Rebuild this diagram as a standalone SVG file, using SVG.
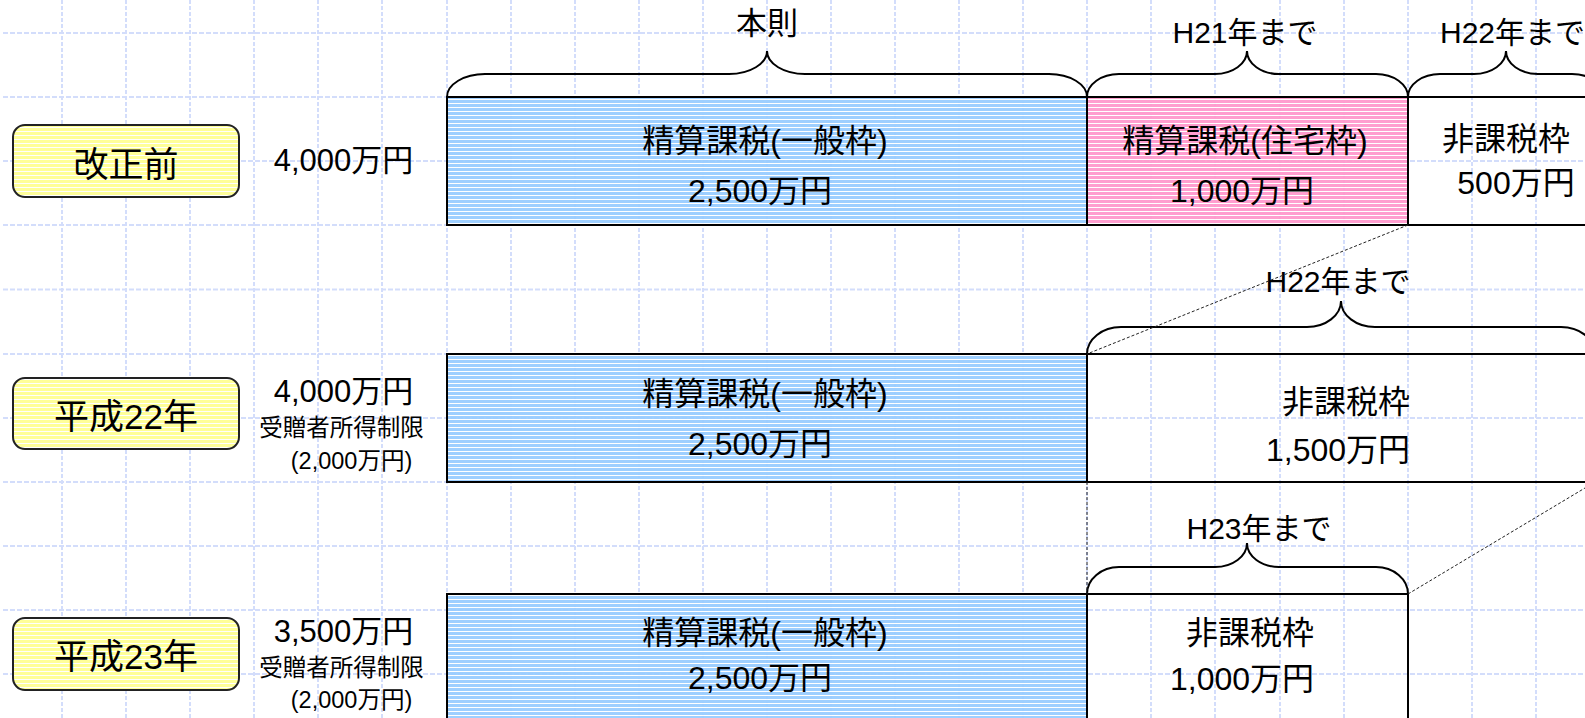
<svg xmlns="http://www.w3.org/2000/svg" width="1585" height="718" viewBox="0 0 1585 718">
<style>
.gh{fill:none;stroke:#D3DDFB;stroke-width:2;stroke-dasharray:5 2}
.gv{fill:none;stroke:#D3DDFB;stroke-width:2;stroke-dasharray:4 2}
.box{fill:none;stroke:#000;stroke-width:2}
.brace{fill:none;stroke:#000;stroke-width:2}
.conn{fill:none;stroke:#222;stroke-width:1;stroke-dasharray:3 2}
.lab{fill:url(#py);stroke:#222;stroke-width:2}
text{font-family:"Liberation Sans","Noto Sans CJK JP",sans-serif;fill:#000}
.t32{font-size:32px;text-anchor:middle}
.t30{font-size:30px;text-anchor:middle}
.t31{font-size:31px;text-anchor:middle}
.t24{font-size:23.5px;text-anchor:middle}
.t35{font-size:35px;text-anchor:middle}
</style>
<defs>
<pattern id="pb" width="8" height="4" patternUnits="userSpaceOnUse"><rect width="8" height="4" fill="#99CCFF"/><rect y="3" width="8" height="1" fill="#fff"/></pattern>
<pattern id="pp" width="8" height="4" patternUnits="userSpaceOnUse"><rect width="8" height="4" fill="#FF99CC"/><rect y="3" width="8" height="1" fill="#fff"/></pattern>
<pattern id="py" width="8" height="4" patternUnits="userSpaceOnUse"><rect width="8" height="4" fill="#FFFF99"/><rect y="3" width="8" height="1" fill="#fff"/></pattern>
</defs>
<rect width="1585" height="718" fill="#fff"/>
<g id="grid">
<path class="gh" d="M3 33H1585M3 97H1585M3 161H1585M3 225H1585M3 289.5H1585M3 354H1585M3 418H1585M3 482H1585M3 546H1585M3 610H1585M3 674H1585"/>
<path class="gv" d="M62 0V718M126 0V718M190 0V718M254 0V718M318 0V718M382 0V718M447 0V718M511 0V718M575 0V718M639 0V718M703 0V718M767 0V718M831 0V718M895 0V718M959 0V718M1023 0V718M1087 0V718M1151 0V718M1215 0V718M1280 0V718M1344 0V718M1408 0V718M1472 0V718M1536 0V718"/>
</g>
<g id="row1">
<g id="label-kaiseimae"><rect class="lab" x="13" y="125" width="226" height="72" rx="12"/><text class="t35" x="126" y="177">改正前</text></g>
<g id="amount1"><text class="t31" x="343.5" y="171">4,000万円</text></g>
<g id="r1-general"><rect x="447" y="97" width="640" height="128" fill="url(#pb)" fill-opacity="0.95"/><rect class="box" x="447" y="97" width="640" height="128"/><text class="t32" x="765" y="152">精算課税(一般枠)</text><text class="t32" x="760" y="202">2,500万円</text></g>
<g id="r1-housing"><rect x="1087" y="97" width="321" height="128" fill="url(#pp)" fill-opacity="0.95"/><rect class="box" x="1087" y="97" width="321" height="128"/><text class="t32" x="1245" y="152">精算課税(住宅枠)</text><text class="t32" x="1242" y="202">1,000万円</text></g>
<g id="r1-exempt"><path class="box" d="M1590 97H1408V225H1590"/><text class="t32" x="1506" y="150">非課税枠</text><text class="t32" x="1516" y="194">500万円</text></g>
</g>
<g id="row2">
<g id="label-h22"><rect class="lab" x="13" y="378" width="226" height="71" rx="12"/><text class="t35" x="126" y="429">平成22年</text></g>
<g id="amount2"><text class="t31" x="343.5" y="402">4,000万円</text><text class="t24" x="341.5" y="436">受贈者所得制限</text><text class="t24" x="351.5" y="469">(2,000万円)</text></g>
<g id="r2-general"><rect x="447" y="354" width="640" height="128" fill="url(#pb)" fill-opacity="0.95"/><rect class="box" x="447" y="354" width="640" height="128"/><text class="t32" x="765" y="405">精算課税(一般枠)</text><text class="t32" x="760" y="455">2,500万円</text></g>
<g id="r2-exempt"><path class="box" d="M1590 354H1087V482H1590"/><text class="t32" x="1346" y="413">非課税枠</text><text class="t32" x="1338" y="461">1,500万円</text></g>
</g>
<g id="row3">
<g id="label-h23"><rect class="lab" x="13" y="618" width="226" height="72" rx="12"/><text class="t35" x="126" y="669">平成23年</text></g>
<g id="amount3"><text class="t31" x="343.5" y="642">3,500万円</text><text class="t24" x="341.5" y="676">受贈者所得制限</text><text class="t24" x="351.5" y="708">(2,000万円)</text></g>
<g id="r3-general"><rect x="447" y="594" width="640" height="130" fill="url(#pb)" fill-opacity="0.95"/><rect class="box" x="447" y="594" width="640" height="130"/><text class="t32" x="765" y="644">精算課税(一般枠)</text><text class="t32" x="760" y="689">2,500万円</text></g>
<g id="r3-exempt"><path class="box" d="M1087 724V594H1408V724"/><text class="t32" x="1250" y="644">非課税枠</text><text class="t32" x="1242" y="690">1,000万円</text></g>
</g>
<g id="braces">
<g id="brace-honsoku"><path class="brace" d="M447 97A38 23 0 0 1 485 74H729A38 23 0 0 0 767 51A38 23 0 0 0 805 74H1049A38 23 0 0 1 1087 97"/><text class="t31" x="767" y="34">本則</text></g>
<g id="brace-h21"><path class="brace" d="M1087 97A32 23 0 0 1 1119 74H1215A32 23 0 0 0 1247 51A32 23 0 0 0 1279 74H1376A32 23 0 0 1 1408 97"/><text class="t30" x="1245" y="43">H21年まで</text></g>
<g id="brace-h22-top"><path class="brace" d="M1408 97A32 23 0 0 1 1440 74H1474A32 23 0 0 0 1506 51A32 23 0 0 0 1538 74H1572A32 23 0 0 1 1604 97"/><text x="1440" y="43" style="font-size:30px">H22年まで</text></g>
<g id="brace-h22-row2"><path class="brace" d="M1087 354A34 27 0 0 1 1121 327H1307A34 26 0 0 0 1341 301A34 26 0 0 0 1375 327H1561A34 27 0 0 1 1595 354"/><text class="t30" x="1338" y="292">H22年まで</text></g>
<g id="brace-h23"><path class="brace" d="M1087 594A32 27 0 0 1 1119 567H1215A32 24 0 0 0 1247 543A32 24 0 0 0 1279 567H1376A32 27 0 0 1 1408 594"/><text class="t30" x="1259" y="539">H23年まで</text></g>
</g>
<g id="connectors">
<path class="conn" d="M1408 225L1087 354"/>
<path class="conn" d="M1087 482V594"/>
<path class="conn" d="M1408 594L1595 482"/>
</g>
</svg>
